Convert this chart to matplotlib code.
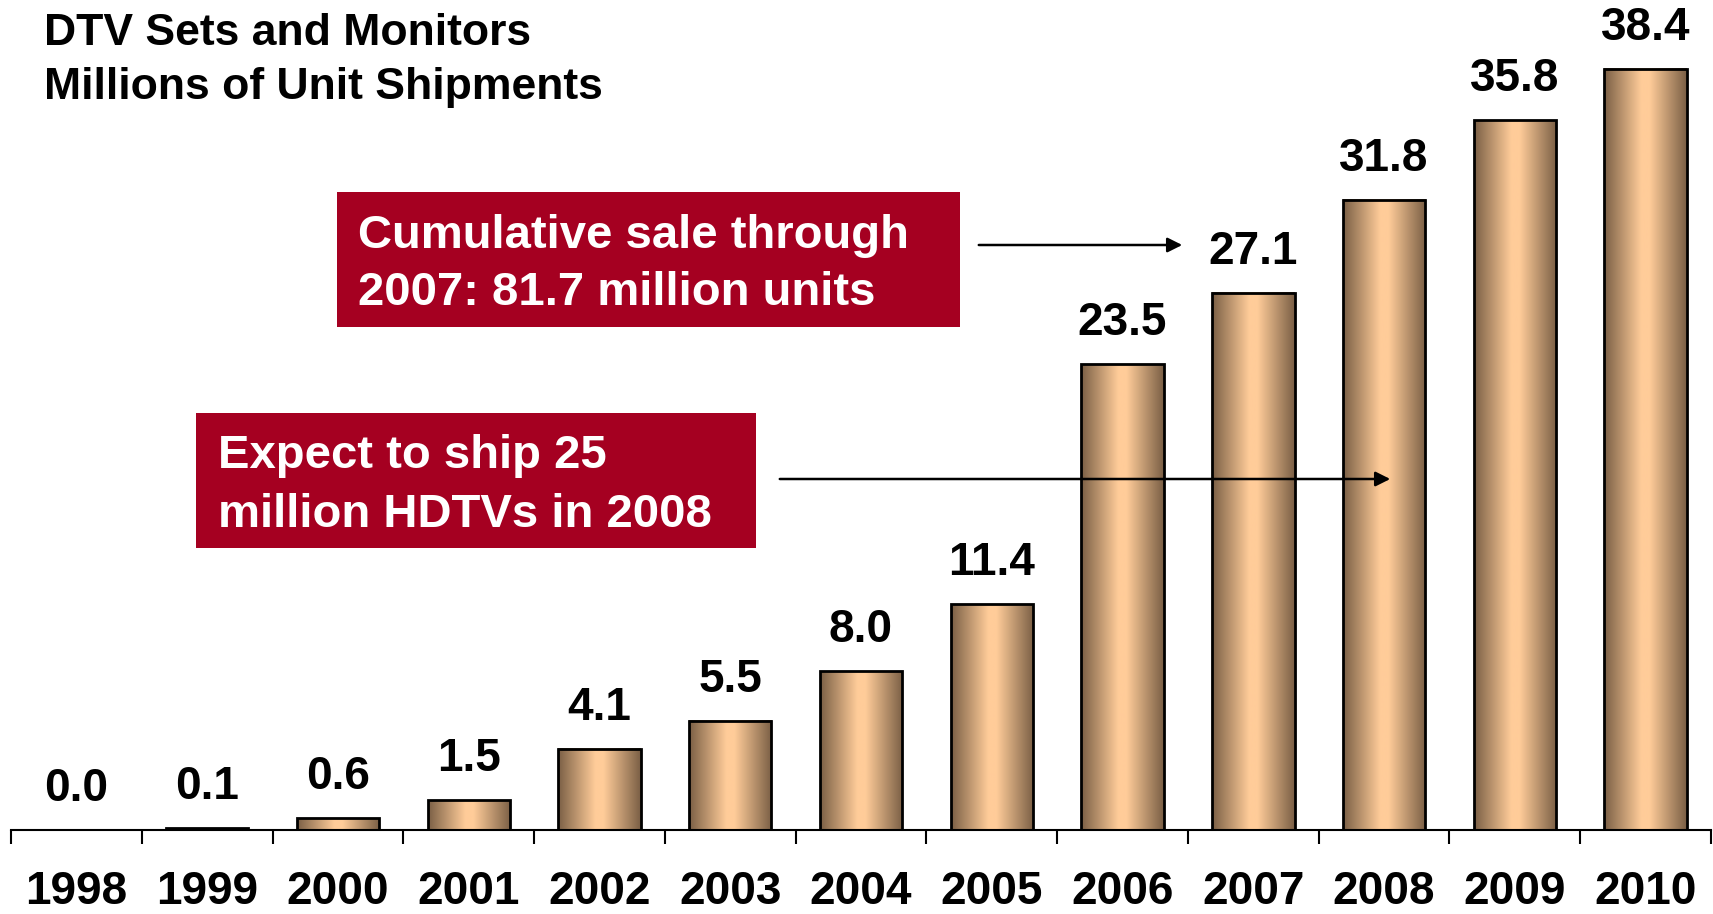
import numpy as np
import matplotlib.pyplot as plt
from matplotlib.colors import LinearSegmentedColormap
from matplotlib.patches import Rectangle
import matplotlib.transforms as mtransforms

plt.rcParams['font.family'] = ['Liberation Sans', 'DejaVu Sans']
plt.rcParams['font.weight'] = 'bold'

years = ['1998', '1999', '2000', '2001', '2002', '2003', '2004',
         '2005', '2006', '2007', '2008', '2009', '2010']
shipments = [0.0, 0.1, 0.6, 1.5, 4.1, 5.5, 8.0, 11.4, 23.5, 27.1, 31.8, 35.8, 38.4]
title_lines = ['DTV Sets and Monitors', 'Millions of Unit Shipments']
note1 = ['Cumulative sale through', '2007: 81.7 million units']
note2 = ['Expect to ship 25', 'million HDTVs in 2008']

W, H = 1713, 914
fig = plt.figure(figsize=(W / 100, H / 100), dpi=100)
ax = fig.add_axes([11 / W, (H - 830) / H, 1700 / W, 830 / H])

for s in ['top', 'right', 'left']:
    ax.spines[s].set_visible(False)
ax.spines['bottom'].set_linewidth(1.5)
ax.set_yticks([])

# gradient for bars: dark edges, light centre
cmap = LinearSegmentedColormap.from_list(
    'tan', [(0, '#7a5f45'), (0.45, '#ffcc99'), (0.55, '#ffcc99'), (1, '#7a5f45')])
grad = np.linspace(0, 1, 256).reshape(1, -1)

bw = 0.63
x = np.arange(len(years))
for xi, v in zip(x, shipments):
    if v <= 0:
        continue
    ax.imshow(grad, cmap=cmap, aspect='auto',
              extent=(xi - bw / 2, xi + bw / 2, 0, v), zorder=2)
    ax.add_patch(Rectangle((xi - bw / 2, 0), bw, v, fill=False,
                           edgecolor='black', lw=2, zorder=3))

for xi, v in zip(x, shipments):
    ax.annotate(f'{v:.1f}', (xi, v), xytext=(0, 21), textcoords='offset points',
                ha='center', va='baseline', fontsize=33, fontweight='bold')

ax.set_xlim(-0.5, len(years) - 0.5)
ax.set_ylim(0, 41.88)

# ticks at category boundaries, year labels in centres
ax.set_xticks(np.arange(-0.5, len(years)))
ax.tick_params(axis='x', length=10, width=1.5, direction='out', labelbottom=False)
trans = mtransforms.blended_transform_factory(ax.transData, fig.transFigure)
for xi, yr in zip(x, years):
    ax.text(xi, 1 - 904 / H, yr, transform=trans, ha='center', va='baseline',
            fontsize=33, fontweight='bold', clip_on=False)

# title
fig.text(44 / W, 1 - 45 / H, title_lines[0], fontsize=32, fontweight='bold',
         ha='left', va='baseline')
fig.text(44 / W, 1 - 99 / H, title_lines[1], fontsize=32, fontweight='bold',
         ha='left', va='baseline')

# red callout boxes
red = '#a50021'
def callout(x0, y0, x1, y1, lines, tx, baselines):
    fig.patches.append(Rectangle((x0 / W, 1 - y1 / H), (x1 - x0) / W, (y1 - y0) / H,
                                 transform=fig.transFigure, facecolor=red,
                                 edgecolor='none', zorder=5))
    for line, by in zip(lines, baselines):
        fig.text(tx / W, 1 - by / H, line, color='white', fontsize=34,
                 fontweight='bold', ha='left', va='baseline', zorder=6)

callout(337, 192, 960, 327, note1, 358, [248, 305])
callout(196, 413, 756, 548, note2, 218, [468, 527])

ax.annotate('', xy=(1185 / W, 1 - 245 / H), xytext=(976 / W, 1 - 245 / H),
            xycoords='figure fraction', textcoords='figure fraction',
            arrowprops=dict(arrowstyle='-|>', color='black', lw=1.8,
                            mutation_scale=22), zorder=7)
ax.annotate('', xy=(1393 / W, 1 - 479 / H), xytext=(777 / W, 1 - 479 / H),
            xycoords='figure fraction', textcoords='figure fraction',
            arrowprops=dict(arrowstyle='-|>', color='black', lw=1.8,
                            mutation_scale=22), zorder=7)

fig.savefig('out.png', dpi=100)
